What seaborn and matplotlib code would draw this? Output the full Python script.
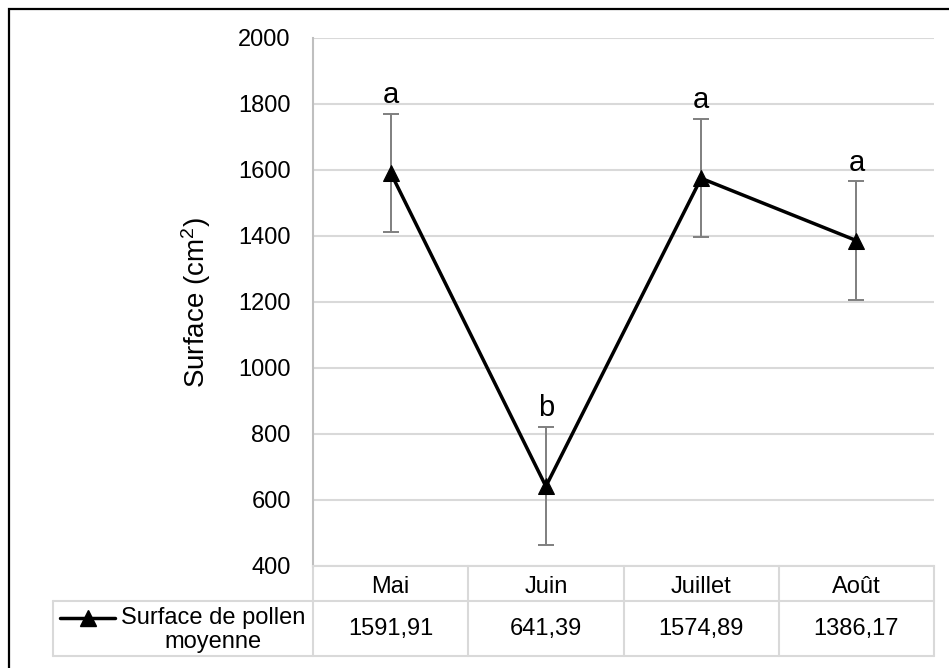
import matplotlib
matplotlib.use("Agg")
import matplotlib.pyplot as plt
import matplotlib.transforms as mtransforms
from matplotlib.patches import Rectangle
from matplotlib.lines import Line2D
import seaborn as sns
import pandas as pd

# ---- data ----
months = ["Mai", "Juin", "Juillet", "Août"]
surface = [1591.91, 641.39, 1574.89, 1386.17]
errors = [179, 179, 179, 179]
letters = ["a", "b", "a", "a"]
value_labels = ["1591,91", "641,39", "1574,89", "1386,17"]
series_name = "Surface de pollen\nmoyenne"
y_ticks = [400, 600, 800, 1000, 1200, 1400, 1600, 1800, 2000]

df = pd.DataFrame({"Mois": months, "Surface": surface})

sns.set_theme(style="white")
plt.rcParams["font.family"] = ["Liberation Sans", "DejaVu Sans"]
plt.rcParams["mathtext.fontset"] = "custom"
plt.rcParams["mathtext.rm"] = "Liberation Sans"
plt.rcParams["mathtext.default"] = "regular"
plt.rcParams["text.color"] = "black"
plt.rcParams["axes.labelcolor"] = "black"
plt.rcParams["xtick.color"] = "black"
plt.rcParams["ytick.color"] = "black"

W, H = 949, 668
fig = plt.figure(figsize=(W / 100, H / 100), dpi=100)
left, right, top, bottom = 313, 934, 38, 566
ax = fig.add_axes([left / W, 1 - bottom / H, (right - left) / W, (bottom - top) / H])

FS = 17
grid_c = "#d9d9d9"

sns.lineplot(data=df, x="Mois", y="Surface", ax=ax, color="black", linewidth=2.5,
             marker="^", markersize=11, markeredgecolor="black", sort=False, zorder=4)
ax.errorbar(range(len(months)), surface, yerr=errors, fmt="none", ecolor="#7f7f7f",
            elinewidth=1.4, capsize=6, capthick=1.4, zorder=3)

for i, (v, e, l) in enumerate(zip(surface, errors, letters)):
    ax.text(i, v + e + 33, l, ha="center", va="baseline", fontsize=21, color="black")

ax.set_xlim(-0.5, len(months) - 0.5)
ax.set_ylim(400, 2000)
ax.set_yticks(y_ticks)
ax.set_yticklabels([str(t) for t in y_ticks], fontsize=FS)
ax.yaxis.grid(True, color=grid_c, linewidth=1.5)
ax.set_axisbelow(True)
ax.tick_params(axis="y", length=0, pad=16, labelcolor="black")
ax.tick_params(axis="x", length=0, pad=7, labelsize=FS, labelcolor="black")
ax.set_xlabel("")
ax.set_ylabel("Surface (cm$^{2}$)", fontsize=20, color="black")
ax.yaxis.set_label_coords((213 - left) / (right - left), 0.5)

for s in ["top", "right"]:
    ax.spines[s].set_visible(False)
ax.spines["left"].set_color("#bfbfbf")
ax.spines["left"].set_linewidth(1.5)
ax.spines["bottom"].set_color(grid_c)
ax.spines["bottom"].set_linewidth(1.5)

# ---- data table below the axes ----
ah = bottom - top
aw = right - left
def ay(px):
    return -(px - bottom) / ah
def axx(px):
    return (px - left) / aw

y_mid = 601
y_bot = 656
trans_ax = ax.transAxes
blend = mtransforms.blended_transform_factory(ax.transData, ax.transAxes)
lw = 1.5
for yy in [y_mid, y_bot]:
    ax.add_line(Line2D([axx(53), 1.0], [ay(yy), ay(yy)], transform=trans_ax,
                       color=grid_c, lw=lw, clip_on=False))
for k in range(len(months) + 1):
    xk = k - 0.5
    ax.add_line(Line2D([xk, xk], [0, ay(y_bot)], transform=blend,
                       color=grid_c, lw=lw, clip_on=False))
ax.add_line(Line2D([axx(53), axx(53)], [ay(y_mid), ay(y_bot)], transform=trans_ax,
                   color=grid_c, lw=lw, clip_on=False))

for i, t in enumerate(value_labels):
    ax.text(i, ay((y_mid + y_bot) / 2 + 1), t, transform=blend, ha="center", va="center",
            fontsize=FS, color="black")

# legend key + series name
ly = ay(618)
ax.add_line(Line2D([axx(60), axx(115)], [ly, ly], transform=trans_ax, color="black",
                   lw=2.5, clip_on=False))
ax.add_line(Line2D([axx(88)], [ly], transform=trans_ax, color="black", marker="^",
                   markersize=11, clip_on=False))
ax.text(axx(213), ay(630), series_name, transform=trans_ax, ha="center", va="center",
        fontsize=FS, color="black", linespacing=1.1)

# outer border
fig.add_artist(Rectangle((8.5 / W, -0.1), 1.2, 1.1 - 9.5 / H, transform=fig.transFigure,
                         fill=False, edgecolor="black", linewidth=1.6))

fig.savefig("out.png", dpi=100)
